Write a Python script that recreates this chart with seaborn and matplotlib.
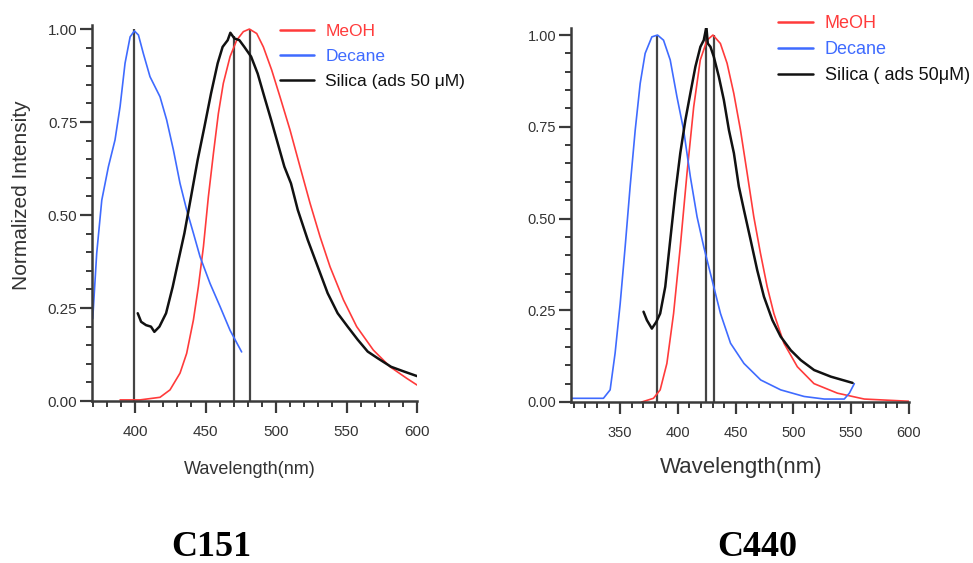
import numpy as np
import pandas as pd
import matplotlib
matplotlib.use("Agg")
import matplotlib.pyplot as plt
from matplotlib.ticker import MultipleLocator
import seaborn as sns

# ---------------- data ----------------
# C151
c151_meoh_wl = [389.4, 403.5, 417.7, 424.8, 431.9, 436.6, 441.4, 444.9, 448.5, 452, 455.6,
                459.1, 462.6, 467.4, 472.1, 476.8, 481.1, 486.3, 491, 496.9, 502.8, 509.9,
                517, 524.1, 531.2, 538.3, 547.8, 557.2, 569, 580.9, 592.7, 600]
c151_meoh = [0.003, 0.003, 0.010, 0.030, 0.075, 0.128, 0.218, 0.307, 0.415, 0.549, 0.666,
             0.773, 0.854, 0.926, 0.970, 0.993, 1.0, 0.988, 0.952, 0.890, 0.818, 0.729,
             0.630, 0.532, 0.442, 0.361, 0.272, 0.200, 0.137, 0.092, 0.061, 0.043]
c151_decane_wl = [370, 372.8, 376.4, 381.1, 385.8, 389.4, 392.9, 396.5, 399.5, 402.4, 405.9,
                  410.6, 417.7, 422.4, 427.2, 431.9, 436.6, 441.4, 446.1, 453.2, 460.3,
                  467.4, 475.6]
c151_decane = [0.222, 0.397, 0.540, 0.630, 0.702, 0.792, 0.908, 0.979, 0.995, 0.984, 0.934,
               0.872, 0.818, 0.756, 0.675, 0.585, 0.514, 0.451, 0.388, 0.316, 0.254, 0.190,
               0.132]
c151_silica_wl = [401.9, 404.3, 407.8, 411.3, 413.7, 417.3, 422, 426.7, 430.3, 435, 439.7,
                  444.4, 449.2, 453.9, 458.6, 462.1, 465.7, 467.6, 470.4, 474, 477.5, 482.3,
                  487, 491.7, 496.5, 501.2, 505.9, 510.6, 515.4, 522.5, 529.6, 536.6, 543.7,
                  550.8, 557.9, 565, 572.1, 581.6, 591, 600]
c151_silica = [0.236, 0.213, 0.204, 0.200, 0.186, 0.200, 0.236, 0.307, 0.370, 0.451, 0.549,
               0.648, 0.737, 0.827, 0.908, 0.952, 0.970, 0.990, 0.975, 0.970, 0.952, 0.926,
               0.880, 0.818, 0.756, 0.693, 0.630, 0.585, 0.514, 0.433, 0.361, 0.290, 0.236,
               0.200, 0.165, 0.133, 0.115, 0.092, 0.079, 0.067]
c151_peak_wl = [399.5, 470.2, 481.6]
c151_peak_val = [1.0, 0.98, 1.0]

# C440
c440_meoh_wl = [368.8, 378.9, 384.7, 390.5, 396.3, 402.1, 407.9, 413.7, 419.4, 425.2, 430.4,
                436.8, 442.6, 448.4, 454.2, 460, 465.7, 471.5, 477.3, 483.1, 491.8, 503.4,
                517.8, 538.1, 561.3, 600]
c440_meoh = [0.0, 0.010, 0.033, 0.105, 0.241, 0.423, 0.623, 0.804, 0.932, 0.986, 1.0, 0.977,
             0.923, 0.841, 0.741, 0.623, 0.505, 0.405, 0.314, 0.241, 0.160, 0.096, 0.050,
             0.024, 0.008, 0.002]
c440_decane_wl = [306.6, 335.6, 341.4, 345.7, 350.1, 354.4, 358.7, 363.1, 367.4, 371.7, 377.5,
                  382.4, 387.6, 393.4, 399.2, 405, 410.8, 416.6, 422.4, 428.2, 436.9, 445.6,
                  457.2, 471.7, 489, 509.3, 526.7, 544, 548.4, 552.7]
c440_decane = [0.010, 0.010, 0.033, 0.133, 0.268, 0.423, 0.587, 0.741, 0.868, 0.950, 0.995,
               1.0, 0.986, 0.932, 0.832, 0.741, 0.614, 0.505, 0.423, 0.350, 0.241, 0.160,
               0.105, 0.060, 0.033, 0.015, 0.008, 0.008, 0.024, 0.050]
c440_silica_wl = [370.3, 373.2, 377.5, 381.3, 384.7, 389.1, 393.4, 397.8, 402.1, 406.5, 410.8,
                  415.2, 419.5, 422.4, 424.7, 425.9, 428.2, 431.1, 435.5, 439.8, 444.2, 448.5,
                  452.8, 457.2, 463, 468.7, 474.5, 481.8, 489, 497.7, 506.4, 517.9, 532.4,
                  551.2]
c440_silica = [0.246, 0.223, 0.200, 0.218, 0.241, 0.314, 0.441, 0.569, 0.678, 0.768, 0.841,
               0.914, 0.968, 0.986, 1.022, 0.977, 0.968, 0.941, 0.886, 0.823, 0.741, 0.678,
               0.587, 0.523, 0.441, 0.359, 0.287, 0.223, 0.178, 0.141, 0.114, 0.087, 0.069,
               0.052]
c440_peak_wl = [382, 424.5, 431]
c440_peak_val = [1.0, 1.025, 1.0]

series_labels_c151 = ["MeOH", "Decane", "Silica (ads 50 \u03bcM)"]
series_labels_c440 = ["MeOH", "Decane", "Silica ( ads 50\u03bcM)"]
panel_titles = ["C151", "C440"]
y_ticks = [0.0, 0.25, 0.5, 0.75, 1.0]
y_ticklabels = ["0.00", "0.25", "0.50", "0.75", "1.00"]
c151_xticks = [400, 450, 500, 550, 600]
c440_xticks = [350, 400, 450, 500, 550, 600]

# ---------------- styling ----------------
sns.set_theme(style="white")
plt.rcParams["font.family"] = ["Liberation Sans", "DejaVu Sans"]

RED = "#ff3b3b"
BLUE = "#3f6bff"
BLACK = "#111111"
AXC = "#3a3a3a"
TXT = "#333333"

fig = plt.figure(figsize=(9.73, 5.63), dpi=100)
fig.patch.set_facecolor("white")

ax1 = fig.add_axes([0.0946, 0.2877, 0.3340, 0.6673])
ax2 = fig.add_axes([0.5868, 0.2860, 0.3474, 0.6648])


def make_df(wl, val, name):
    return pd.DataFrame({"wl": wl, "val": val, "series": name})


def draw_panel(ax, meoh, decane, silica, peaks, labels, xlim, ylim, xticks, tick_fs,
               legend_anchor, legend_fs, legend_sp):
    colors = [RED, BLUE, BLACK]
    widths = [1.2, 1.2, 1.8]
    for (wl, val), lab, c, lw in zip([meoh, decane, silica], labels, colors, widths):
        sns.lineplot(data=make_df(wl, val, lab), x="wl", y="val", ax=ax, color=c,
                     linewidth=lw, label=lab, estimator=None, sort=False)
    ax.vlines(peaks[0], 0, peaks[1], color="#444444", linewidth=1.6, zorder=1)
    ax.set_xlim(*xlim)
    ax.set_ylim(*ylim)
    ax.set_xlabel("")
    ax.set_ylabel("")
    ax.set_xticks(xticks)
    ax.xaxis.set_minor_locator(MultipleLocator(10))
    ax.set_yticks(y_ticks)
    ax.set_yticklabels(y_ticklabels)
    ax.yaxis.set_minor_locator(MultipleLocator(0.05))
    for s in ["top", "right"]:
        ax.spines[s].set_visible(False)
    for s in ["left", "bottom"]:
        ax.spines[s].set_color(AXC)
        ax.spines[s].set_linewidth(1.8)
    ax.tick_params(axis="both", which="major", direction="out", length=8.5, width=1.6,
                   color=AXC, labelcolor=TXT, labelsize=tick_fs, bottom=True, left=True)
    ax.tick_params(axis="both", which="minor", direction="out", length=4.5, width=1.4,
                   color=AXC, bottom=True, left=True)
    ax.tick_params(axis="x", which="major", pad=9)
    ax.tick_params(axis="y", which="major", pad=2)
    ax.set_facecolor("white")
    leg = ax.legend(loc="upper left", bbox_to_anchor=legend_anchor,
                    bbox_transform=fig.transFigure, frameon=False, fontsize=legend_fs,
                    handlelength=1.95, handletextpad=0.65, labelspacing=legend_sp,
                    borderpad=0, borderaxespad=0, labelcolor="linecolor")
    for h in leg.get_lines():
        h.set_linewidth(1.8)
    return ax


draw_panel(ax1, (c151_meoh_wl, c151_meoh), (c151_decane_wl, c151_decane),
           (c151_silica_wl, c151_silica), (c151_peak_wl, c151_peak_val),
           series_labels_c151, (369.5, 600), (0, 1.01), c151_xticks, 11,
           (280 / 973, 1 - 23.5 / 563), 12.5, 0.58)
draw_panel(ax2, (c440_meoh_wl, c440_meoh), (c440_decane_wl, c440_decane),
           (c440_silica_wl, c440_silica), (c440_peak_wl, c440_peak_val),
           series_labels_c440, (307.5, 600), (0, 1.02), c440_xticks, 10.5,
           (778 / 973, 1 - 15.5 / 563), 13, 0.48)

# axis titles
fig.text(22 / 973, 1 - 195 / 563, "Normalized Intensity", rotation=90, ha="center",
         va="center", fontsize=15, color=TXT)
fig.text(250 / 973, 1 - 470 / 563, "Wavelength(nm)", ha="center", va="center",
         fontsize=13, color=TXT)
fig.text(741 / 973, 1 - 468 / 563, "Wavelength(nm)", ha="center", va="center",
         fontsize=16, color=TXT)

# panel captions
fig.text(211 / 973, 1 - 548 / 563, panel_titles[0], ha="center", va="center",
         fontsize=26, fontweight="bold", family=["Liberation Serif", "DejaVu Serif"],
         color="black")
fig.text(757 / 973, 1 - 548 / 563, panel_titles[1], ha="center", va="center",
         fontsize=26, fontweight="bold", family=["Liberation Serif", "DejaVu Serif"],
         color="black")

fig.savefig("out.png", dpi=100, facecolor="white")
